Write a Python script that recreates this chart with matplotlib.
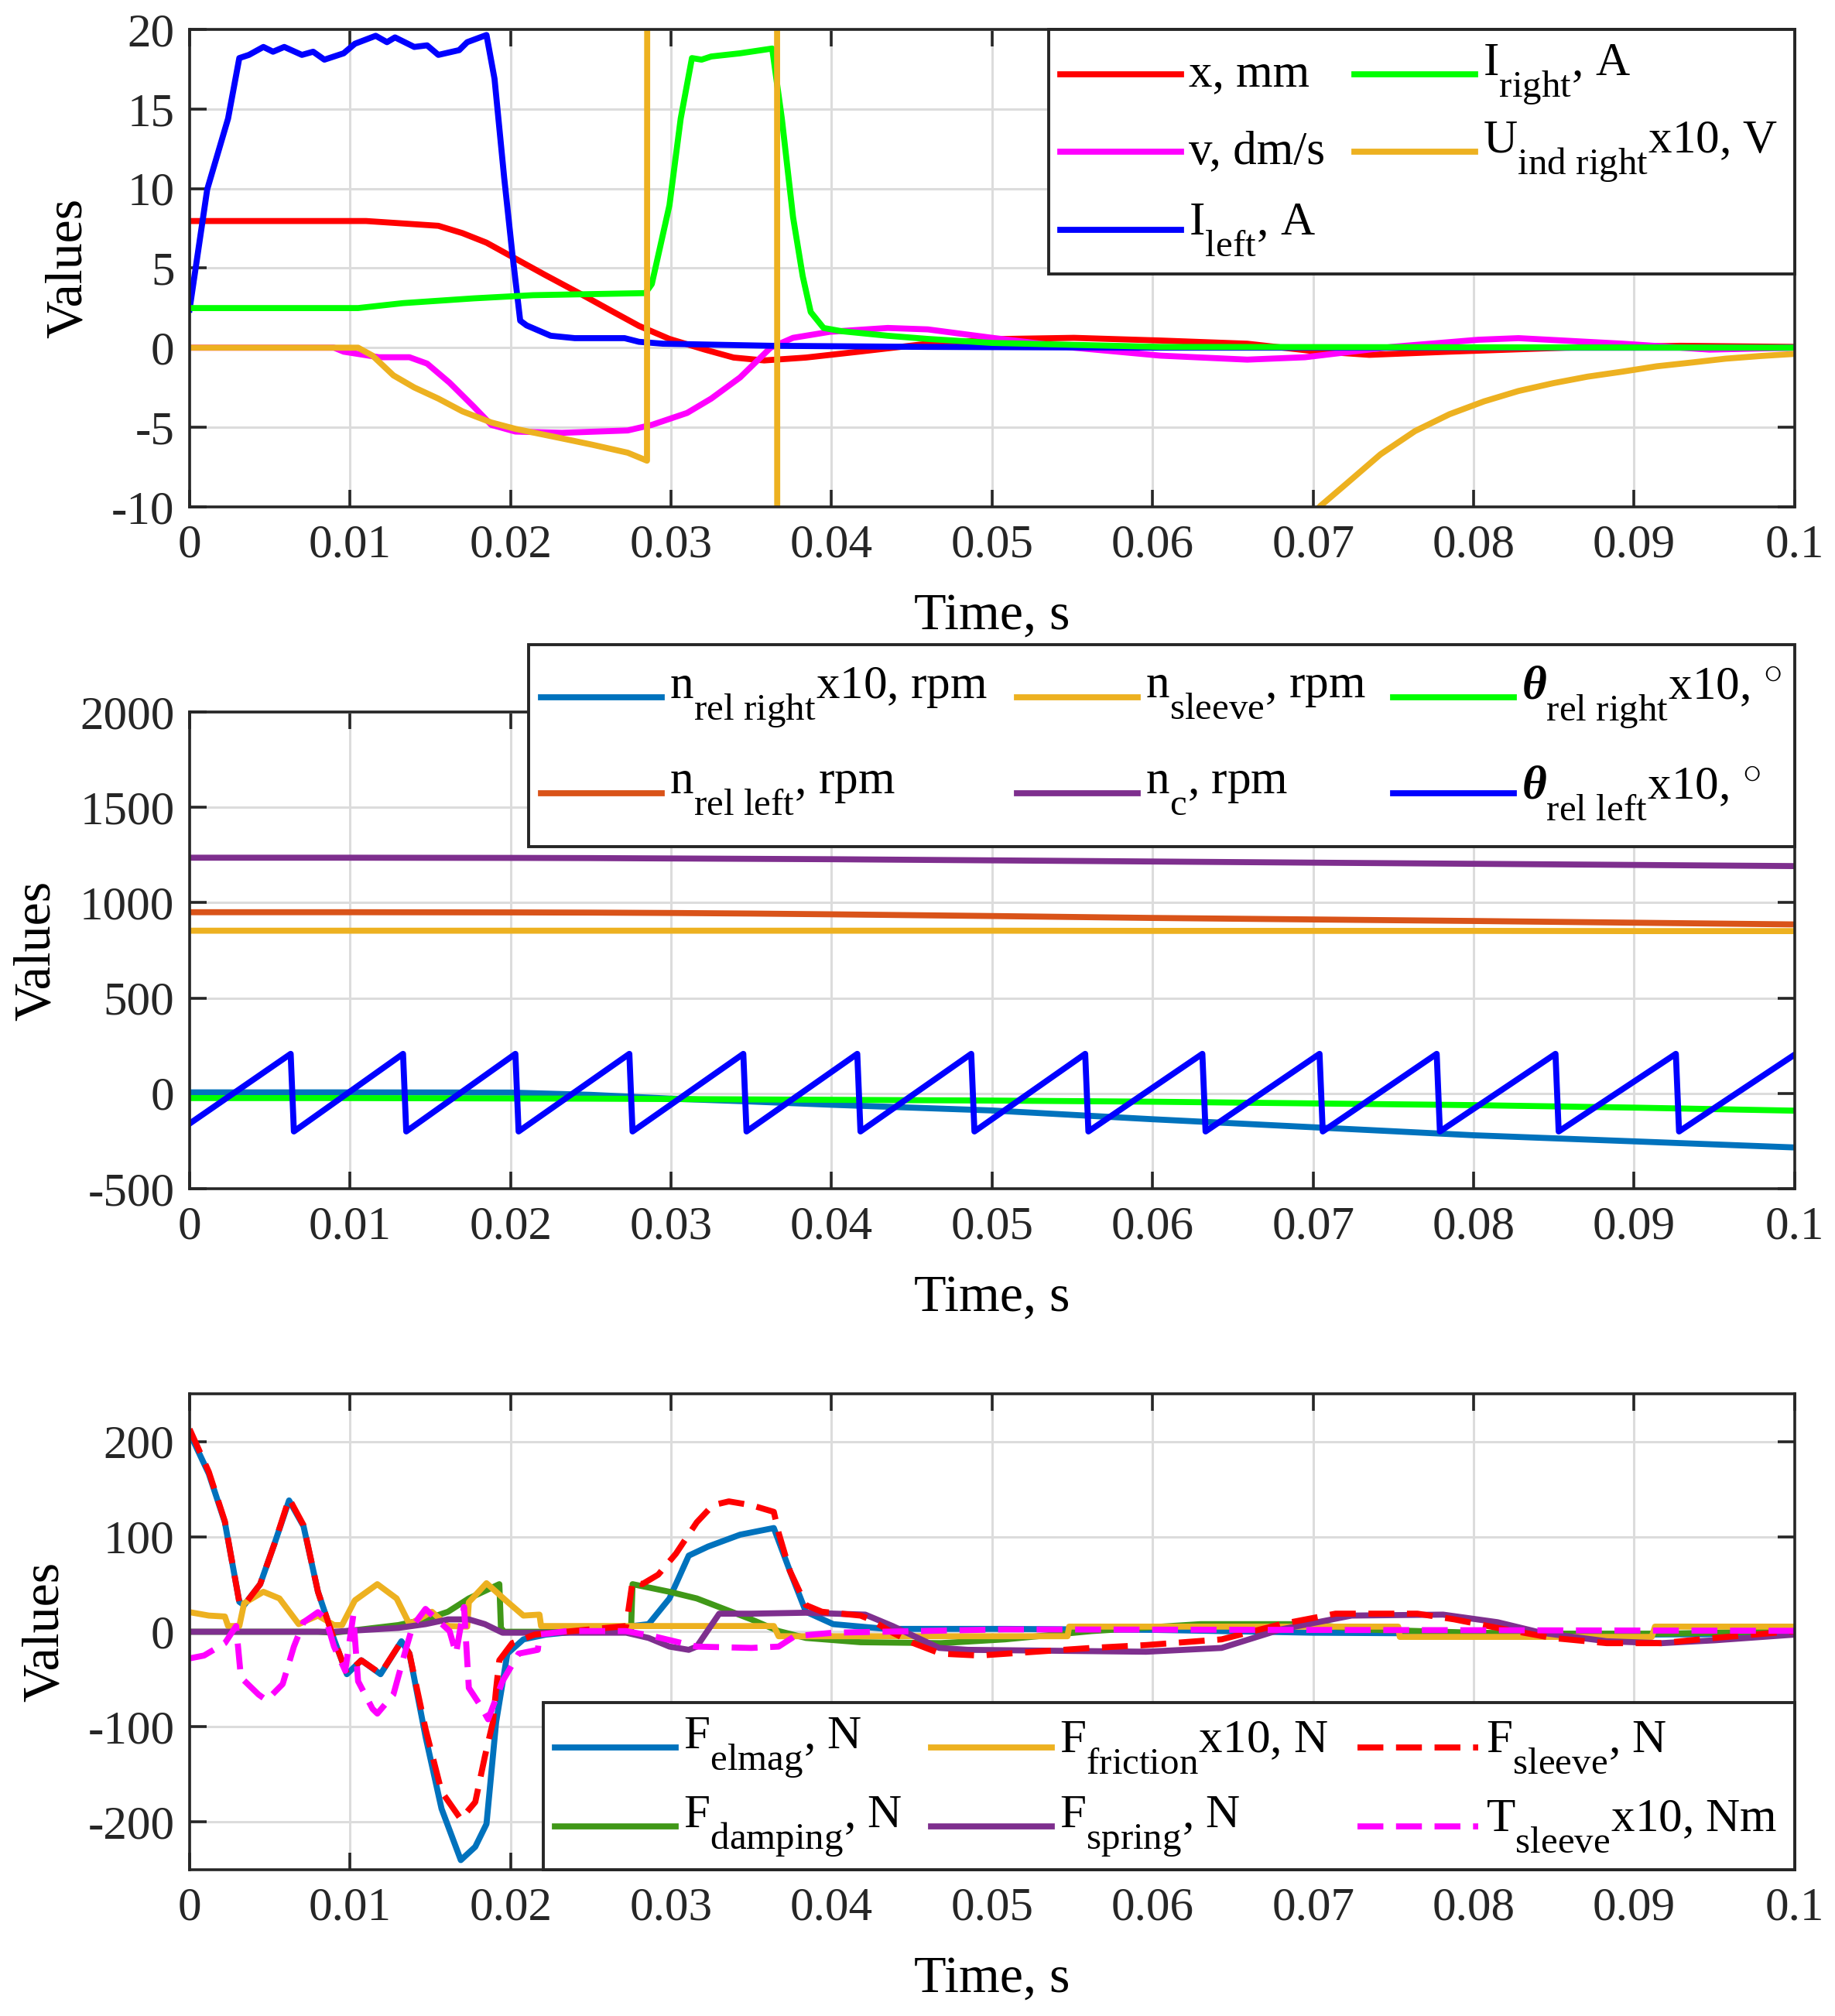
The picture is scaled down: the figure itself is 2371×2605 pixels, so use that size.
import matplotlib
matplotlib.use('Agg')
import matplotlib.pyplot as plt
import matplotlib._mathtext as mathtext_core
from matplotlib.lines import Line2D
from matplotlib.patches import Rectangle

# MATLAB-like subscripts: only slightly smaller than the text, and dropped low
mathtext_core.SHRINK_FACTOR = 0.8
mathtext_core.FontConstantsBase.sub1 = 1.0

plt.rcParams['font.family'] = ['Liberation Serif', 'DejaVu Serif']
plt.rcParams['mathtext.fontset'] = 'custom'
plt.rcParams['mathtext.rm'] = 'Liberation Serif'
plt.rcParams['mathtext.it'] = 'Liberation Serif:italic:bold'
plt.rcParams['mathtext.bf'] = 'Liberation Serif:bold'

# ---------------- top panel data ----------------
t_x = [0, 0.011, 0.014, 0.0155, 0.017, 0.0185, 0.0203, 0.0221, 0.0244, 0.0262, 0.028, 0.0299,
       0.0321, 0.0339, 0.0358, 0.0384, 0.0417, 0.046, 0.0508, 0.0551, 0.0605, 0.0659, 0.0699,
       0.0735, 0.0785, 0.0857, 0.0929, 0.1]
x_mm = [7.96, 7.96, 7.76, 7.66, 7.2, 6.6, 5.6, 4.6, 3.36, 2.36, 1.37, 0.55,
        -0.12, -0.62, -0.8, -0.62, -0.25, 0.25, 0.55, 0.62, 0.45, 0.25, -0.2,
        -0.45, -0.25, 0.0, 0.12, 0.05]

t_v = [0, 0.009, 0.0096, 0.0118, 0.0137, 0.0148, 0.0162, 0.0177, 0.0188, 0.0203, 0.0232, 0.0273,
       0.0288, 0.031, 0.0325, 0.0343, 0.0362, 0.0376, 0.0399, 0.0435, 0.046, 0.05, 0.0551, 0.0605,
       0.0659, 0.0695, 0.0749, 0.0803, 0.0828, 0.0893, 0.0947, 0.1]
v_dms = [0, 0, -0.25, -0.6, -0.6, -1.0, -2.2, -3.7, -4.85, -5.27, -5.35, -5.2,
         -4.85, -4.1, -3.2, -1.87, 0.0, 0.62, 1.0, 1.24, 1.15, 0.62, 0.0, -0.5,
         -0.75, -0.6, 0.05, 0.5, 0.6, 0.25, -0.12, 0.0]

t_il = [0, 0.0011, 0.0024, 0.0031, 0.0037, 0.0046, 0.0052, 0.0059, 0.007, 0.0077, 0.0084, 0.0096,
        0.0103, 0.0116, 0.0123, 0.0128, 0.014, 0.0148, 0.0155, 0.0168, 0.0173, 0.0185, 0.019,
        0.0196, 0.0201, 0.0206, 0.021, 0.0225, 0.024, 0.0271, 0.028, 0.0295, 0.0362, 0.046, 0.06, 0.1]
i_left = [2.4, 9.95, 14.4, 18.2, 18.4, 18.9, 18.6, 18.9, 18.4, 18.6, 18.1, 18.5,
          19.1, 19.6, 19.2, 19.5, 18.9, 19.0, 18.4, 18.7, 19.2, 19.65, 16.9,
          10.7, 6.0, 1.7, 1.4, 0.75, 0.6, 0.6, 0.37, 0.25, 0.12, 0.05, 0.0, 0.0]

t_ir = [0, 0.0105, 0.0133, 0.0177, 0.0214, 0.0284, 0.0288, 0.0299, 0.0306, 0.0313, 0.0319, 0.0325,
        0.0343, 0.0363, 0.0369, 0.0376, 0.0382, 0.0387, 0.0395, 0.0406, 0.0435, 0.046, 0.05,
        0.0605, 0.1]
i_right = [2.49, 2.49, 2.8, 3.1, 3.3, 3.43, 4.0, 8.96, 14.4, 18.2, 18.1, 18.3,
           18.5, 18.8, 14.4, 8.2, 4.5, 2.24, 1.24, 1.04, 0.75, 0.55, 0.3,
           0.05, 0.0]

t_u = [0, 0.0105, 0.0114, 0.0127, 0.014, 0.0155, 0.017, 0.0188, 0.0203, 0.0232, 0.0251, 0.0273,
       0.0285, 0.02852, 0.0366, 0.03662, 0.066, 0.0685, 0.07045, 0.07205, 0.0742, 0.07635, 0.0785,
       0.08066, 0.0828, 0.08496, 0.0871, 0.0893, 0.0914, 0.0936, 0.0957, 0.0979, 0.1]
u_ind = [0, 0, -0.5, -1.74, -2.5, -3.2, -4.0, -4.7, -5.1, -5.7, -6.1, -6.6,
         -7.1, 40, 40, -40, -16, -12.3, -9.95, -8.57, -6.7, -5.24, -4.18,
         -3.37, -2.72, -2.23, -1.82, -1.5, -1.17, -0.93, -0.69, -0.52, -0.39]

# ---------------- middle panel data ----------------
t_mid = [0, 0.01, 0.02, 0.025, 0.03, 0.035, 0.04, 0.05, 0.06, 0.07, 0.08, 0.09, 0.1]
n_rel_right = [5, 5, 4, -8, -28, -43, -60, -90, -136, -178, -220, -252, -284]
n_rel_left = [950, 950, 949, 948, 946, 943, 939, 930, 920, 912, 904, 895, 886]
n_sleeve = [853, 853, 853, 853, 853, 853, 853, 853, 852, 852, 852, 851, 851]
n_c = [1236, 1236, 1235, 1234, 1232, 1230, 1228, 1222, 1216, 1210, 1204, 1198, 1192]
theta_right = [-25, -25, -27, -28, -30, -32, -34, -38, -44, -53, -62, -75, -91]

t_theta_l = [0, 0.0063, 0.0065, 0.0133, 0.0135, 0.0203, 0.0205, 0.0274, 0.0276, 0.0345, 0.0347,
             0.0416, 0.0418, 0.0487, 0.0489, 0.0558, 0.0560, 0.0631, 0.0633, 0.0704, 0.0706,
             0.0777, 0.0779, 0.0851, 0.0853, 0.0926, 0.0928, 0.1]
theta_left = [-159, 207, -200, 207, -200, 207, -200, 207, -200, 207, -200,
              207, -200, 207, -200, 207, -200, 207, -200, 207, -200,
              207, -200, 207, -200, 207, -200, 203]

# ---------------- bottom panel data ----------------
t_fe = [0, 0.0012, 0.0022, 0.0031, 0.0034, 0.0044, 0.0053, 0.0062, 0.0071, 0.008, 0.009, 0.0098,
        0.0107, 0.0119, 0.0132, 0.0137, 0.0147, 0.0157, 0.0169, 0.0178, 0.0185, 0.0191, 0.0198,
        0.0208, 0.0222, 0.0276, 0.0286, 0.0299, 0.0311, 0.0323, 0.0343, 0.0364, 0.0374, 0.0384,
        0.0401, 0.0434, 0.0508, 0.06, 0.07, 0.08, 0.09, 0.1]
f_elmag = [209, 166, 115, 31.5, 28, 50, 93, 138, 111, 42, -8, -44.6,
           -30, -44.6, -10, -23, -110, -186, -240, -226, -202, -95, -23,
           -8, -3, 6, 8, 35, 80, 89.5, 102, 109, 64, 21,
           8, 3, 3, 2, -1, -2, -3, -2]

t_fd = [0, 0.008, 0.009, 0.013, 0.0147, 0.0161, 0.0174, 0.0193, 0.0194, 0.0196, 0.0275, 0.0276,
        0.0299, 0.0316, 0.0333, 0.035, 0.0367, 0.0384, 0.0418, 0.0468, 0.0508, 0.0562, 0.063,
        0.0697, 0.073, 0.08, 0.085, 0.092, 0.1]
f_damping = [0, 0, -1, 7, 13, 21, 35, 50, 4, 0, 0, 50,
             42, 35, 24, 13, 0.7, -6.5, -11, -12, -8, 0.7, 8,
             8, 2.5, -1, -2, -2, 0.7]

t_ff = [0, 0.0012, 0.0022, 0.0024, 0.0031, 0.0034, 0.0046, 0.0056, 0.0068, 0.008, 0.009, 0.0095,
        0.0103, 0.0117, 0.0129, 0.0137, 0.0151, 0.0161, 0.0173, 0.0174, 0.0185, 0.0198, 0.0208,
        0.0218, 0.0219, 0.0364, 0.0367, 0.0547, 0.0548, 0.0753, 0.0754, 0.0911, 0.0913, 0.1]
f_friction = [20.6, 17, 16, 6, 6, 30, 42, 35, 8, 17, 7, 7,
              33, 50, 35, 8, 21, 6, 5.4, 31, 51, 31.5, 17,
              18, 6, 6, -4.7, -4.7, 5.4, 5.4, -5.4, -5.4, 5.4, 5.4]

t_fsp = [0, 0.009, 0.013, 0.0147, 0.0161, 0.0174, 0.0184, 0.0195, 0.0272, 0.0286, 0.0299, 0.0311,
         0.0316, 0.033, 0.035, 0.0384, 0.0421, 0.0438, 0.0467, 0.0485, 0.0596, 0.0643, 0.068,
         0.0724, 0.0781, 0.0815, 0.0842, 0.0883, 0.0917, 0.095, 0.1]
f_spring = [0, 0, 4, 8, 13, 13, 8, -1, -1, -6.5, -15.6, -19,
            -15.6, 19, 19, 20, 18, 6, -17, -19, -21, -17, 2.5,
            17, 18, 10, -1, -10, -12, -9, -3]

t_fs = [0, 0.0012, 0.0022, 0.0031, 0.0034, 0.0044, 0.0053, 0.0062, 0.0071, 0.008, 0.009, 0.0098,
        0.0107, 0.0119, 0.0132, 0.0137, 0.0147, 0.0157, 0.0169, 0.0178, 0.0184, 0.0189, 0.0191,
        0.0193, 0.0201, 0.0215, 0.0272, 0.0276, 0.0282, 0.0292, 0.0303, 0.0316, 0.0326, 0.0336,
        0.035, 0.0364, 0.0367, 0.0374, 0.0384, 0.0394, 0.0418, 0.0424, 0.0438, 0.0451, 0.0468,
        0.0492, 0.0562, 0.0596, 0.0643, 0.068, 0.0714, 0.0765, 0.0788, 0.0815, 0.0849, 0.0883,
        0.0917, 0.095, 0.1]
f_sleeve = [213, 168, 116, 31, 28, 50, 93, 140, 112, 42, -8, -44,
            -30, -44, -10, -23, -102, -168, -197, -179, -131, -95, -60,
            -30, -12, -3, 6, 53, 50, 60, 82, 115, 133, 137,
            133, 126, 104, 64, 28, 21, 17, 13, -1, -12, -23,
            -25, -17, -14, -8, 8, 19, 19, 13, 4, -6.5, -12,
            -12, -6.5, 0.7]

t_ts = [0, 0.0009, 0.0022, 0.0029, 0.0032, 0.0043, 0.0048, 0.0058, 0.0065, 0.0071, 0.008, 0.0085,
        0.009, 0.0097, 0.0102, 0.0105, 0.0114, 0.0117, 0.0127, 0.0134, 0.0139, 0.0147, 0.0154,
        0.0162, 0.0166, 0.0171, 0.0174, 0.0181, 0.0186, 0.0195, 0.0205, 0.0217, 0.0218, 0.0235,
        0.0272, 0.0289, 0.0316, 0.035, 0.0367, 0.0377, 0.0401, 0.0508, 0.1]
t_sleeve = [-28, -25, -12, 6, -48, -66, -72, -55, -15.6, 10, 20.6, 13,
            -15.6, -41, 17, -52, -81, -86, -66, -23, 6, 24, 13,
            0.7, -23, 26, -59, -77, -92, -52, -23, -19, -3, 0.7,
            0.7, -4.7, -15.6, -17, -15.6, -4.7, -1, 2.5, 1]

x_ticks = [0, 0.01, 0.02, 0.03, 0.04, 0.05, 0.06, 0.07, 0.08, 0.09, 0.1]
x_tick_labels = ['0', '0.01', '0.02', '0.03', '0.04', '0.05', '0.06', '0.07', '0.08', '0.09', '0.1']

W, H = 2371, 2605
LW = 5.6
DASH = (0, (4.3, 2.1))
FRAME = '#262626'


def style_axes(ax, ylim, yticks):
    ax.set_xlim(0, 0.1)
    ax.set_ylim(*ylim)
    ax.set_xticks(x_ticks)
    ax.set_xticklabels(x_tick_labels)
    ax.set_yticks(yticks)
    ax.set_yticklabels([str(v) for v in yticks])
    ax.grid(True, color='#dcdcdc', linewidth=2.2)
    ax.set_axisbelow(True)
    for sp in ax.spines.values():
        sp.set_linewidth(2.6)
        sp.set_color(FRAME)
    ax.tick_params(direction='in', length=16, width=2.6, top=True, right=True,
                   labelsize=44, colors=FRAME)
    ax.tick_params(axis='x', pad=16)
    ax.tick_params(axis='y', pad=14)
    ax.set_xlabel('Time, s', fontsize=49, color='black', labelpad=24)
    ax.set_ylabel('Values', fontsize=49, color='black', labelpad=18)


def px(x):
    return x / W


def py(y):
    return 1 - y / H


def matlab_legend(fig, lines, box, col_x, row_y):
    # box = (left, top, right, bottom) in pixels, entries filled column by column
    left, top, right, bottom = box
    fig.add_artist(Rectangle((px(left), py(bottom)), (right - left) / W, (bottom - top) / H,
                             transform=fig.transFigure, facecolor='white',
                             edgecolor=FRAME, linewidth=2.8, zorder=10))
    nrows = len(row_y)
    for k, src in enumerate(lines):
        x0 = col_x[k // nrows]
        y0 = row_y[k % nrows]
        h = Line2D([px(x0), px(x0 + 156)], [py(y0), py(y0)])
        h.update_from(src)
        h.set_transform(fig.transFigure)
        h.set_clip_on(False)
        h.set_zorder(11)
        fig.add_artist(h)
        fig.text(px(x0 + 166), py(y0), src.get_label(), fontsize=44,
                 ha='left', va='center', zorder=11)


fig = plt.figure(figsize=(W / 100, H / 100), dpi=100)
ax1 = fig.add_axes([0.1033, 0.7486, 0.8747, 0.2368])
ax2 = fig.add_axes([0.1033, 0.4104, 0.8747, 0.2364])
ax3 = fig.add_axes([0.1033, 0.0726, 0.8747, 0.2360])

# top panel
top_lines = [
    ax1.plot(t_x, x_mm, color='#FF0000', lw=LW, label='x, mm')[0],
    ax1.plot(t_v, v_dms, color='#FF00FF', lw=LW, label='v, dm/s')[0],
    ax1.plot(t_il, i_left, color='#0000FF', lw=LW, label=r'I$_{\mathrm{left}}$, A')[0],
    ax1.plot(t_ir, i_right, color='#00FF00', lw=LW, label=r'I$_{\mathrm{right}}$, A')[0],
    ax1.plot(t_u, u_ind, color='#EDB120', lw=LW, label=r'U$_{\mathrm{ind\ right}}$x10, V')[0],
]
style_axes(ax1, (-10, 20), [-10, -5, 0, 5, 10, 15, 20])
matlab_legend(fig, top_lines, (1355, 38, 2319, 354), [1370, 1750], [96, 196, 297])

# middle panel
mid_lines = [
    ax2.plot(t_mid, n_rel_right, color='#0072BD', lw=LW, label=r'n$_{\mathrm{rel\ right}}$x10, rpm')[0],
    ax2.plot(t_mid, n_rel_left, color='#D95319', lw=LW, label=r'n$_{\mathrm{rel\ left}}$, rpm')[0],
    ax2.plot(t_mid, n_sleeve, color='#EDB120', lw=LW, label=r'n$_{\mathrm{sleeve}}$, rpm')[0],
    ax2.plot(t_mid, n_c, color='#7E2F8E', lw=LW, label=r'n$_{\mathrm{c}}$, rpm')[0],
    ax2.plot(t_mid, theta_right, color='#00FF00', lw=LW,
             label=r'$\theta_{\mathrm{rel\ right}}$x10, $^{\circ}$')[0],
    ax2.plot(t_theta_l, theta_left, color='#0000FF', lw=LW,
             label=r'$\theta_{\mathrm{rel\ left}}$x10, $^{\circ}$')[0],
]
style_axes(ax2, (-500, 2000), [-500, 0, 500, 1000, 1500, 2000])
matlab_legend(fig, mid_lines, (683, 833, 2319, 1094), [699, 1314, 1800], [901, 1025])

# bottom panel
bot_lines = [
    ax3.plot(t_fe, f_elmag, color='#0072BD', lw=LW, label=r'F$_{\mathrm{elmag}}$, N')[0],
    ax3.plot(t_fd, f_damping, color='#409818', lw=LW, label=r'F$_{\mathrm{damping}}$, N')[0],
    ax3.plot(t_ff, f_friction, color='#EDB120', lw=LW, label=r'F$_{\mathrm{friction}}$x10, N')[0],
    ax3.plot(t_fsp, f_spring, color='#7E2F8E', lw=LW, label=r'F$_{\mathrm{spring}}$, N')[0],
    ax3.plot(t_fs, f_sleeve, color='#FF0000', lw=LW, ls=DASH, label=r'F$_{\mathrm{sleeve}}$, N')[0],
    ax3.plot(t_ts, t_sleeve, color='#FF00FF', lw=LW, ls=DASH, label=r'T$_{\mathrm{sleeve}}$x10, Nm')[0],
]
style_axes(ax3, (-250, 250), [-200, -100, 0, 100, 200])
matlab_legend(fig, bot_lines, (702, 2200, 2319, 2416), [717, 1203, 1754], [2258, 2360])

fig.savefig('out.png', dpi=100)
